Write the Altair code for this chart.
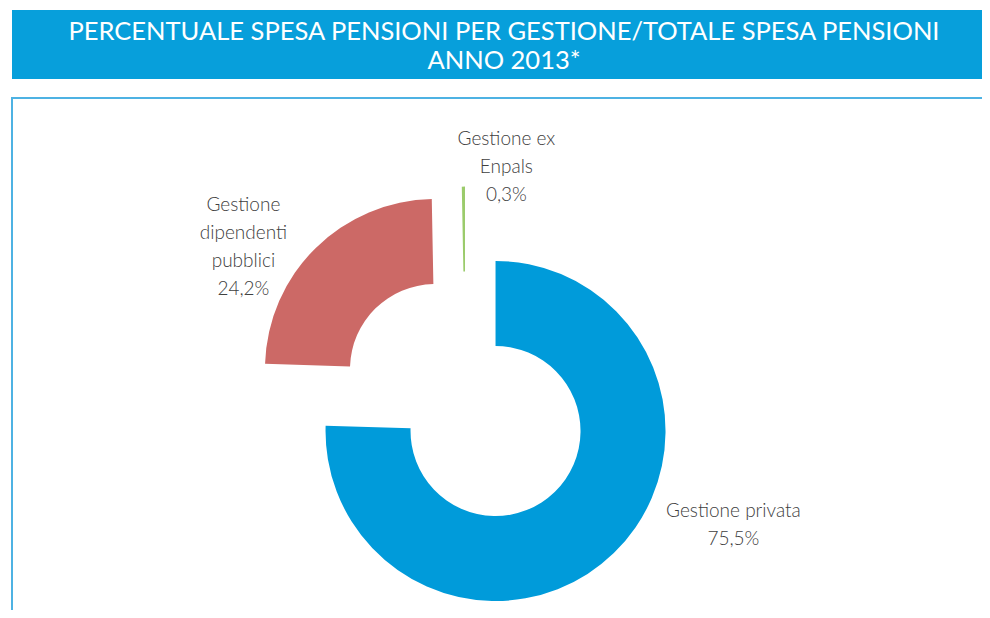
import math
import altair as alt
import pandas as pd

# ---------------- data ----------------
categories = ["Gestione privata", "Gestione dipendenti pubblici", "Gestione ex Enpals"]
label_names = ["Gestione privata", "Gestione\ndipendenti\npubblici", "Gestione ex\nEnpals"]
shares = [75.5, 24.2, 0.3]
colors = ["#009BDA", "#CC6966", "#9BCB6B"]
title_text = "PERCENTUALE SPESA PENSIONI PER GESTIONE/TOTALE SPESA PENSIONI\nANNO 2013*"

# ---------------- layout ----------------
W, H = 974, 602
CX, CY = 457.4, 391.9          # pie centre (before exploding)
R_OUT, R_IN = 170, 85
EXPLODE = 43.3
# label anchor (first-line baseline) relative to pie centre
LABEL_OFFSET = {
    "Gestione privata": (268.0, 117.0),
    "Gestione dipendenti pubblici": (-222.0, -189.0),
    "Gestione ex Enpals": (41.0, -255.0),
}

rows = []
cum = 0.0
total = sum(shares)
for cat, name, v in zip(categories, label_names, shares):
    start = cum / total * 100
    end = (cum + v) / total * 100
    cum += v
    mid = (start + end) / 2 * 2 * math.pi / 100
    ox, oy = LABEL_OFFSET[cat]
    rows.append({
        "cat": cat,
        "value": v,
        "start": start,
        "end": end,
        "ex": CX + EXPLODE * math.sin(mid),
        "ey": CY - EXPLODE * math.cos(mid),
        "lx": CX + ox,
        "ly": CY + oy,
        "label": name + "\n" + f"{v:.1f}".replace(".", ",") + "%",
    })
df = pd.DataFrame(rows)

xs = alt.Scale(domain=[0, W], range=[0, W], nice=False, zero=False)
ys = alt.Scale(domain=[0, H], range=[0, H], nice=False, zero=False)

one = pd.DataFrame({"t": [title_text]})

band = alt.Chart(one).mark_rect(color="#079FDB").encode(
    x=alt.value(4), x2=alt.value(W + 20), y=alt.value(2), y2=alt.value(71)
)
title = alt.Chart(one).mark_text(
    color="white", font="Lato", fontSize=25.5, align="center", baseline="alphabetic",
    lineBreak="\n", lineHeight=29
).encode(x=alt.value(496), y=alt.value(32), text="t:N")

box = alt.Chart(one).mark_rect(filled=False, stroke="#4DB2E3", strokeWidth=2).encode(
    x=alt.value(4), x2=alt.value(W + 20), y=alt.value(90), y2=alt.value(H + 20)
)

arcs = alt.Chart(df).mark_arc(innerRadius=R_IN, outerRadius=R_OUT).encode(
    x=alt.X("ex:Q", scale=xs, axis=None, stack=None),
    y=alt.Y("ey:Q", scale=ys, axis=None, stack=None),
    theta=alt.Theta("start:Q", stack=None,
                    scale=alt.Scale(domain=[0, 100], range=[0, 2 * math.pi])),
    theta2="end:Q",
    color=alt.Color("cat:N", scale=alt.Scale(domain=categories, range=colors), legend=None),
)

labels = alt.Chart(df).mark_text(
    font="Lato", fontWeight=300, fontSize=19, color="#404040", align="center",
    baseline="alphabetic", lineBreak="\n", lineHeight=28
).encode(
    x=alt.X("lx:Q", scale=xs, axis=None),
    y=alt.Y("ly:Q", scale=ys, axis=None),
    text="label:N",
)

chart = alt.layer(band, title, box, arcs, labels).properties(
    width=W, height=H, padding=0, autosize=alt.AutoSizeParams(type="none")
).configure_view(stroke=None)

chart.save("out.html", embed_options={"renderer": "svg", "actions": False})
